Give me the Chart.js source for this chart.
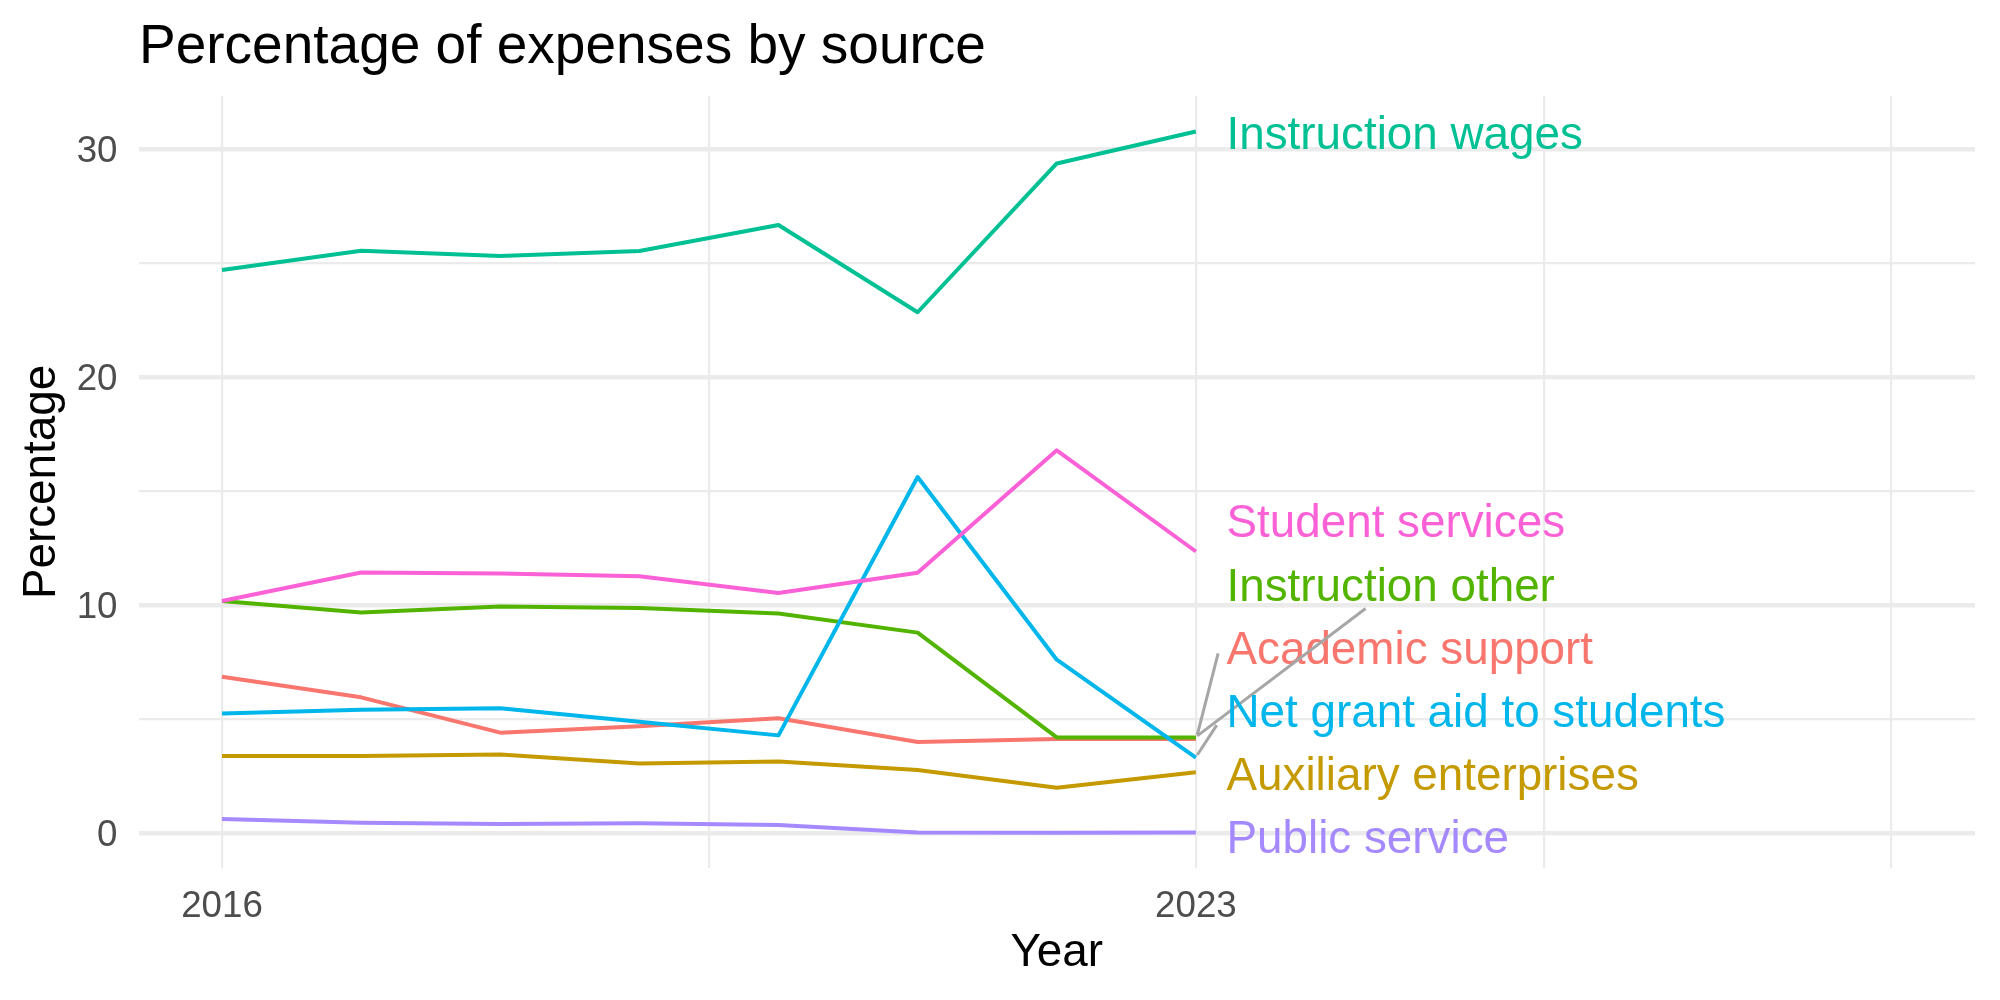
<!DOCTYPE html>
<html lang="en">
<head>
    <meta charset="UTF-8">
    <title>Percentage of expenses by source</title>
    <script src="https://cdn.jsdelivr.net/npm/chart.js"></script>
    <style>
        body {
            margin: 0;
            background: #fff;
        }
        #wrap {
            width: 2000px;
            height: 1000px;
        }
    </style>
</head>
<body>
<div id="wrap">
    <canvas id="expenseChart" width="2000" height="1000"></canvas>
</div>
<script>
    // Values (percent of expenses)
    const years = [2016, 2017, 2018, 2019, 2020, 2021, 2022, 2023];

    const academicSupport   = [6.85, 5.95, 4.40, 4.68, 5.03, 3.99, 4.12, 4.12];
    const auxiliaryEnterp   = [3.37, 3.37, 3.44, 3.05, 3.13, 2.76, 1.98, 2.66];
    const instructionOther  = [10.18, 9.67, 9.94, 9.87, 9.63, 8.79, 4.19, 4.19];
    const instructionWages  = [24.70, 25.55, 25.32, 25.54, 26.68, 22.85, 29.38, 30.78];
    const netGrantAid       = [5.24, 5.40, 5.47, 4.88, 4.28, 15.62, 7.60, 3.30];
    const publicService     = [0.61, 0.45, 0.39, 0.42, 0.35, 0.02, 0.01, 0.02];
    const studentServices   = [10.18, 11.43, 11.38, 11.26, 10.53, 11.42, 16.79, 12.35];

    const seriesNames = ['Academic support', 'Auxiliary enterprises', 'Instruction other',
        'Instruction wages', 'Net grant aid to students', 'Public service', 'Student services'];
    const seriesValues = [academicSupport, auxiliaryEnterp, instructionOther,
        instructionWages, netGrantAid, publicService, studentServices];

    // ggplot default hue palette, 7 groups
    const colors = ['#F8766D', '#C49A00', '#53B400', '#00C094', '#00B6EB', '#A58AFF', '#FB61D7'];

    const yTicks = [0, 5, 10, 15, 20, 25, 30];
    const yLabels = ['0', '', '10', '', '20', '', '30'];
    const xTicks = [2016, 2019.5, 2023, 2025.5, 2028];
    const xLabels = ['2016', '', '2023', '', ''];

    // repelled label placement (data units) and leader segments
    const labelYear = 2023.22;
    const labelY = [8.10, 2.56, 10.88, 30.72, 5.32, -0.20, 13.66];
    const segments = [
        [[2023.16, 7.88], [2023.01, 4.30]],
        null,
        [[2024.22, 9.85], [2023.01, 4.26]],
        null,
        [[2023.15, 4.73], [2023.01, 3.42]],
        null,
        null
    ];

    const FONT = '"Liberation Sans", Arial, sans-serif';
    const TEXT_NUDGE = 3; // canvas 'middle' sits a little high vs. R text

    const labelPlugin = {
        id: 'lineLabels',
        afterDatasetsDraw(chart) {
            const ctx = chart.ctx;
            const xs = chart.scales.x;
            const ys = chart.scales.y;
            ctx.save();
            ctx.font = '45.8px ' + FONT;
            ctx.textBaseline = 'middle';
            ctx.textAlign = 'left';
            seriesNames.forEach((name, i) => {
                const seg = segments[i];
                if (seg) {
                    ctx.beginPath();
                    ctx.strokeStyle = '#A6A6A6';
                    ctx.lineWidth = 3;
                    ctx.moveTo(xs.getPixelForValue(seg[0][0]), ys.getPixelForValue(seg[0][1]));
                    ctx.lineTo(xs.getPixelForValue(seg[1][0]), ys.getPixelForValue(seg[1][1]));
                    ctx.stroke();
                }
                ctx.fillStyle = colors[i];
                ctx.fillText(name, xs.getPixelForValue(labelYear),
                    ys.getPixelForValue(labelY[i]) + TEXT_NUDGE);
            });
            ctx.restore();
        },
        afterDraw(chart) {
            const ctx = chart.ctx;
            ctx.save();
            ctx.font = '55px ' + FONT;
            ctx.fillStyle = '#000';
            ctx.textBaseline = 'middle';
            ctx.fillText('Percentage of expenses by source', 139, 48);
            ctx.restore();
        }
    };

    const datasets = seriesNames.map((name, i) => ({
        label: name,
        data: years.map((yr, j) => ({ x: yr, y: seriesValues[i][j] })),
        borderColor: colors[i],
        backgroundColor: colors[i],
        borderWidth: 4,
        borderJoinStyle: 'round',
        pointRadius: 0,
        tension: 0,
        fill: false,
        order: seriesNames.length - i
    }));

    new Chart(document.getElementById('expenseChart').getContext('2d'), {
        type: 'line',
        data: { datasets: datasets },
        options: {
            responsive: false,
            animation: false,
            layout: { padding: { top: 96, right: 25, left: 0, bottom: 0 } },
            plugins: {
                legend: { display: false },
                title: { display: false },
                tooltip: { enabled: false }
            },
            scales: {
                x: {
                    type: 'linear',
                    min: 2015.4,
                    max: 2028.6,
                    afterBuildTicks: s => { s.ticks = xTicks.map(v => ({ value: v })); },
                    afterFit: s => { s.height = 132; },
                    border: { display: false },
                    grid: { color: '#EBEBEB', lineWidth: 2.2, drawTicks: false },
                    ticks: {
                        autoSkip: false,
                        maxRotation: 0,
                        padding: 17,
                        color: '#4D4D4D',
                        font: { family: FONT, size: 36.7 },
                        callback: (v, idx) => xLabels[idx]
                    },
                    title: {
                        display: true,
                        text: 'Year',
                        color: '#000',
                        font: { family: FONT, size: 45.8 },
                        padding: { top: 0, bottom: 19 }
                    }
                },
                y: {
                    type: 'linear',
                    min: -1.54,
                    max: 32.34,
                    afterBuildTicks: s => { s.ticks = yTicks.map(v => ({ value: v })); },
                    afterFit: s => { s.width = 138.5; },
                    border: { display: false },
                    grid: {
                        color: '#EBEBEB',
                        lineWidth: c => (c.tick && c.tick.value % 10 === 0 ? 4.4 : 2.2),
                        drawTicks: false
                    },
                    ticks: {
                        autoSkip: false,
                        padding: 21,
                        labelOffset: 3,
                        color: '#4D4D4D',
                        font: { family: FONT, size: 36.7 },
                        callback: (v, idx) => yLabels[idx]
                    },
                    title: {
                        display: true,
                        text: 'Percentage',
                        color: '#000',
                        font: { family: FONT, size: 45.8 },
                        padding: { top: 15, bottom: 0 }
                    }
                }
            }
        },
        plugins: [labelPlugin]
    });
</script>
</body>
</html>
